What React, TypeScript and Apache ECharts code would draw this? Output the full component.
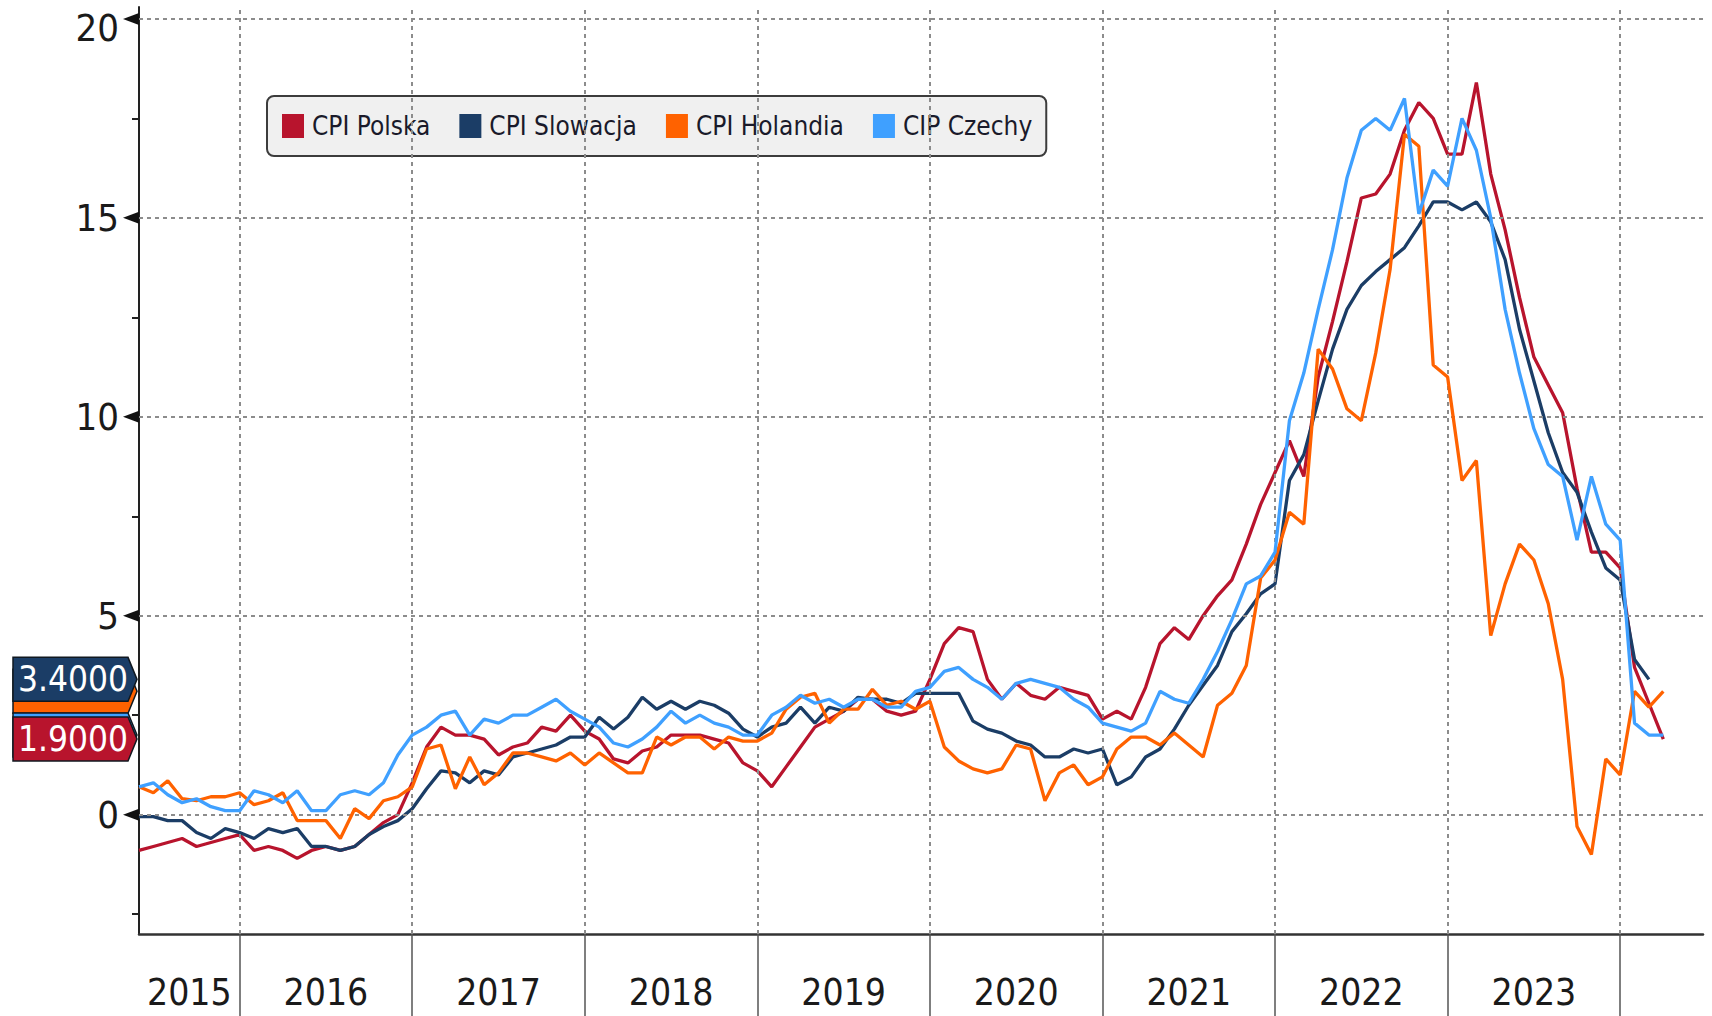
import React, { useEffect, useRef } from "react";
import * as echarts from "echarts";

// First observation: May 2015 (points placed at month end), monthly data
const START_YEAR = 2015;
const START_MONTH = 5;

const seriesNames = ["CPI Polska", "CPI Slowacja", "CPI Holandia", "CIP Czechy"];
const seriesColors = ["#b8142d", "#1b3d66", "#ff6200", "#3fa0ff"];

const polska = [
  -0.9, -0.8, -0.7, -0.6, -0.8, -0.7, -0.6, -0.5,
  -0.9, -0.8, -0.9, -1.1, -0.9, -0.8, -0.9, -0.8, -0.5, -0.2, 0.0, 0.8,
  1.7, 2.2, 2.0, 2.0, 1.9, 1.5, 1.7, 1.8, 2.2, 2.1, 2.5, 2.1,
  1.9, 1.4, 1.3, 1.6, 1.7, 2.0, 2.0, 2.0, 1.9, 1.8, 1.3, 1.1,
  0.7, 1.2, 1.7, 2.2, 2.4, 2.6, 2.9, 2.9, 2.6, 2.5, 2.6, 3.4,
  4.3, 4.7, 4.6, 3.4, 2.9, 3.3, 3.0, 2.9, 3.2, 3.1, 3.0, 2.4,
  2.6, 2.4, 3.2, 4.3, 4.7, 4.4, 5.0, 5.5, 5.9, 6.8, 7.8, 8.6,
  9.4, 8.5, 11.0, 12.4, 13.9, 15.5, 15.6, 16.1, 17.2, 17.9, 17.5, 16.6,
  16.6, 18.4, 16.1, 14.7, 13.0, 11.5, 10.8, 10.1, 8.2, 6.6, 6.6, 6.2,
  3.7, 2.8, 1.9,
];

const slowacja = [
  -0.05, -0.05, -0.15, -0.15, -0.45, -0.6, -0.35, -0.45,
  -0.6, -0.35, -0.45, -0.35, -0.8, -0.8, -0.9, -0.8, -0.5, -0.3, -0.15, 0.15,
  0.65, 1.1, 1.05, 0.8, 1.1, 1.0, 1.45, 1.55, 1.65, 1.75, 1.95, 1.95,
  2.45, 2.15, 2.45, 2.95, 2.65, 2.85, 2.65, 2.85, 2.75, 2.55, 2.15, 1.95,
  2.2, 2.3, 2.7, 2.3, 2.7, 2.6, 2.95, 2.9, 2.9, 2.8, 3.05, 3.05,
  3.05, 3.05, 2.35, 2.15, 2.05, 1.85, 1.75, 1.45, 1.45, 1.65, 1.55, 1.65,
  0.75, 0.95, 1.45, 1.65, 2.15, 2.75, 3.25, 3.75, 4.6, 5.05, 5.55, 5.8,
  8.4, 9.05, 10.4, 11.7, 12.7, 13.3, 13.65, 13.95, 14.25, 14.8, 15.4, 15.4,
  15.2, 15.4, 14.9, 13.95, 12.2, 10.9, 9.6, 8.6, 8.1, 7.1, 6.2, 5.9,
  3.9, 3.4,
];

const holandia = [
  0.7, 0.55, 0.85, 0.4, 0.35, 0.45, 0.45, 0.55,
  0.25, 0.35, 0.55, -0.15, -0.15, -0.15, -0.6, 0.15, -0.1, 0.35, 0.45, 0.7,
  1.65, 1.75, 0.65, 1.45, 0.75, 1.05, 1.55, 1.55, 1.45, 1.35, 1.55, 1.25,
  1.55, 1.3, 1.05, 1.05, 1.95, 1.75, 1.95, 1.95, 1.65, 1.95, 1.85, 1.85,
  2.05, 2.65, 2.95, 3.05, 2.3, 2.65, 2.65, 3.15, 2.75, 2.85, 2.65, 2.85,
  1.7, 1.35, 1.15, 1.05, 1.15, 1.75, 1.65, 0.35, 1.05, 1.25, 0.75, 0.95,
  1.65, 1.95, 1.95, 1.75, 2.05, 1.75, 1.45, 2.75, 3.05, 3.75, 5.95, 6.4,
  7.6, 7.3, 11.7, 11.2, 10.2, 9.9, 11.6, 13.7, 17.1, 16.8, 11.3, 11.0,
  8.4, 8.9, 4.5, 5.8, 6.8, 6.4, 5.3, 3.4, -0.3, -1.0, 1.4, 1.0,
  3.1, 2.7, 3.1,
];

const czechy = [
  0.7, 0.8, 0.5, 0.3, 0.4, 0.2, 0.1, 0.1,
  0.6, 0.5, 0.3, 0.6, 0.1, 0.1, 0.5, 0.6, 0.5, 0.8, 1.5, 2.0,
  2.2, 2.5, 2.6, 2.0, 2.4, 2.3, 2.5, 2.5, 2.7, 2.9, 2.6, 2.4,
  2.2, 1.8, 1.7, 1.9, 2.2, 2.6, 2.3, 2.5, 2.3, 2.2, 2.0, 2.0,
  2.5, 2.7, 3.0, 2.8, 2.9, 2.7, 2.9, 2.9, 2.7, 2.7, 3.1, 3.2,
  3.6, 3.7, 3.4, 3.2, 2.9, 3.3, 3.4, 3.3, 3.2, 2.9, 2.7, 2.3,
  2.2, 2.1, 2.3, 3.1, 2.9, 2.8, 3.4, 4.1, 4.9, 5.8, 6.0, 6.6,
  9.9, 11.1, 12.7, 14.2, 16.0, 17.2, 17.5, 17.2, 18.0, 15.1, 16.2, 15.8,
  17.5, 16.7, 15.0, 12.7, 11.1, 9.7, 8.8, 8.5, 6.9, 8.5, 7.3, 6.9,
  2.3, 2.0, 2.0,
];

const yMajorTicks = [0, 5, 10, 15, 20];
const yMinorTicks = [-2.5, 2.5, 7.5, 12.5, 17.5];
const yearBoundaries = [2016, 2017, 2018, 2019, 2020, 2021, 2022, 2023, 2024];
const yearLabels = [2015, 2016, 2017, 2018, 2019, 2020, 2021, 2022, 2023];

const X_MIN = START_YEAR + START_MONTH / 12;
const X_MAX = 2024.48;
const Y_MIN = -3;
const Y_MAX = 20.3;

const FONT = "'Liberation Sans Narrow', 'DejaVu Sans Condensed', 'Roboto Condensed', Roboto, sans-serif";

function monthEnd(i: number): number {
  return START_YEAR + (START_MONTH + i) / 12;
}

function toPairs(values: number[]) {
  return values.map((v, i) => [monthEnd(i), v]);
}

function labelPos(year: number): number {
  const from = Math.max(year, X_MIN);
  const to = Math.min(year + 1, X_MAX);
  return (from + to) / 2;
}

export default function App() {
  const ref = useRef<HTMLDivElement>(null);

  useEffect(() => {
    if (!ref.current) return;
    const chart = echarts.init(ref.current, undefined, { renderer: "svg" });
    const all = [polska, slowacja, holandia, czechy];

    const option: any = {
      animation: false,
      backgroundColor: "#ffffff",
      textStyle: { fontFamily: FONT },
      grid: { left: 139, right: 9, top: 7, bottom: 82, containLabel: false },
      legend: {
        data: seriesNames,
        left: 267,
        top: 96,
        orient: "horizontal",
        icon: "rect",
        itemWidth: 22,
        itemHeight: 24,
        itemGap: 29,
        padding: [17, 14, 17, 15],
        backgroundColor: "#f0f0f0",
        borderColor: "#3c3c3c",
        borderWidth: 2,
        borderRadius: 7,
        selectedMode: false,
        textStyle: { fontFamily: FONT, fontSize: 26, color: "#1a1a2a", padding: [0, 0, 0, 3] },
      },
      xAxis: {
        type: "value",
        min: X_MIN,
        max: X_MAX,
        axisLine: { show: true, onZero: false, lineStyle: { color: "#333", width: 2.5 } },
        axisTick: {
          show: true,
          customValues: yearBoundaries,
          length: 84,
          lineStyle: { color: "#555", width: 1.5 },
        },
        axisLabel: {
          show: true,
          customValues: yearLabels.map(labelPos),
          formatter: (v: number) => String(Math.floor(v)),
          fontFamily: FONT,
          fontSize: 37,
          lineHeight: 40,
          color: "#1a1a1a",
          margin: 38,
        },
        splitLine: { show: false },
      },
      yAxis: {
        type: "value",
        min: Y_MIN,
        max: Y_MAX,
        axisLine: { show: true, lineStyle: { color: "#222", width: 2 } },
        axisTick: {
          show: true,
          customValues: yMinorTicks,
          length: 7,
          lineStyle: { color: "#222", width: 2 },
        },
        axisLabel: {
          show: true,
          customValues: yMajorTicks,
          margin: 20,
          formatter: (v: number) => (v === 20 ? `{t|${v}}` : `{n|${v}}`),
          rich: {
            n: { fontFamily: FONT, fontSize: 38, color: "#1a1a1a" },
            t: { fontFamily: FONT, fontSize: 38, color: "#1a1a1a", padding: [18, 0, 0, 0] },
          },
        },
        splitLine: { show: false },
      },
      series: [
        {
          name: "grid",
          type: "line",
          data: [],
          z: 1,
          silent: true,
          markLine: {
            silent: true,
            symbol: ["none", "none"],
            label: { show: false },
            emphasis: { disabled: true },
            lineStyle: { color: "#8c8c8c", width: 2, type: [4, 4] },
            data: [
              ...yMajorTicks.map((v) => ({ yAxis: v })),
              ...yearBoundaries.map((v) => ({ xAxis: v })),
            ],
          },
        },
        ...all.map((vals, i) => ({
          name: seriesNames[i],
          type: "line",
          data: toPairs(vals),
          showSymbol: false,
          symbol: "none",
          z: 3 + i,
          color: seriesColors[i],
          lineStyle: { width: 3.3, color: seriesColors[i] },
          emphasis: { disabled: true },
        })),
      ],
    };

    chart.setOption(option);

    const yPix = (v: number) => chart.convertToPixel({ yAxisIndex: 0 }, v) as number;
    const axisX = chart.convertToPixel({ xAxisIndex: 0 }, X_MIN) as number;

    const graphics: any[] = [];
    // major tick arrows on the value axis
    yMajorTicks.forEach((v) => {
      const y = yPix(v);
      graphics.push({
        type: "polygon",
        z: 50,
        shape: { points: [[axisX - 16, y], [axisX, y - 6], [axisX, y + 6]] },
        style: { fill: "#111" },
      });
    });

    // last-value tags (drawn from back to front)
    const tagOrder = [2, 3, 1, 0];
    tagOrder.forEach((si, idx) => {
      const vals = all[si];
      const last = vals[vals.length - 1];
      const y = yPix(last);
      const h = 22;
      const x0 = 13;
      const x1 = axisX - 11;
      const tip = axisX - 2;
      graphics.push({
        type: "polygon",
        z: 60 + idx * 2,
        shape: { points: [[x0, y - h], [x1, y - h], [tip, y], [x1, y + h], [x0, y + h]] },
        style: { fill: seriesColors[si], stroke: "#101820", lineWidth: 1.5 },
      });
      if (si === 0 || si === 1) {
        graphics.push({
          type: "text",
          z: 61 + idx * 2,
          x: 18,
          y: y,
          style: {
            text: last.toFixed(4),
            fill: "#ffffff",
            font: `35px ${FONT}`,
            verticalAlign: "middle",
            align: "left",
          },
        });
      }
    });

    chart.setOption({ graphic: graphics });

    return () => chart.dispose();
  }, []);

  return (
    <div
      ref={ref}
      style={{ position: "fixed", left: 0, top: 0, width: "1712px", height: "1016px", background: "#fff" }}
    />
  );
}
